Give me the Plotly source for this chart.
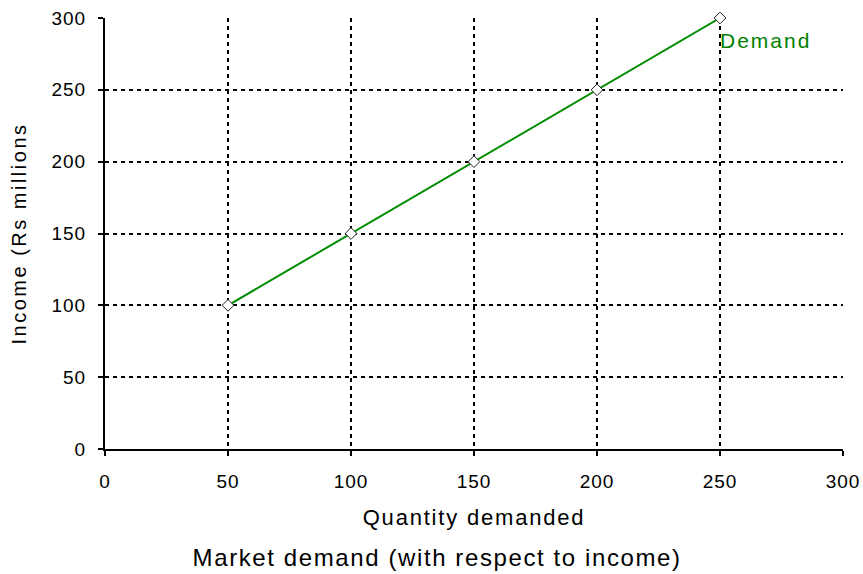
import plotly.graph_objects as go

quantity = [50, 100, 150, 200, 250]
income = [100, 150, 200, 250, 300]
series_name = "Demand"
x_ticks = [0, 50, 100, 150, 200, 250, 300]
y_ticks = [0, 50, 100, 150, 200, 250, 300]
caption = "Market demand (with respect to income)"

FONT = "Liberation Sans, Arial, sans-serif"

fig = go.Figure()
fig.add_trace(go.Scatter(
    x=quantity, y=income, mode="lines+markers", name=series_name,
    line=dict(color="#008c00", width=2),
    marker=dict(symbol="diamond", size=9, color="white", line=dict(color="#222222", width=1)),
    showlegend=False, cliponaxis=False,
))
fig.add_annotation(x=quantity[-1], y=income[-1], text=series_name, showarrow=False,
                   xanchor="left", yanchor="top", xshift=4, yshift=-9,
                   font=dict(color="#008000", size=21, family=FONT))

axis_common = dict(
    showgrid=True, gridcolor="black", gridwidth=2, griddash="4px,4px",
    showline=True, linecolor="black", linewidth=2,
    ticks="outside", ticklen=5, tickcolor="black", tickwidth=2,
    zeroline=False, automargin=False,
    tickfont=dict(size=19, color="black", family=FONT),
)
fig.update_xaxes(range=[0, 300], tickvals=x_ticks, ticklabelstandoff=9, **axis_common,
                 title=dict(text="Quantity demanded", font=dict(size=22, color="black", family=FONT),
                            standoff=19))
fig.update_yaxes(range=[0, 300], tickvals=y_ticks, ticklabelstandoff=8, **axis_common,
                 title=dict(text="Income (Rs millions", font=dict(size=20, color="black", family=FONT),
                            standoff=22))

# caption placed below the x-axis title
plot_left, plot_right, plot_top, plot_bottom = 105, 843, 18, 449
fig.add_annotation(x=(437 - plot_left) / (plot_right - plot_left),
                   y=(plot_bottom - 557) / (plot_bottom - plot_top),
                   xref="paper", yref="paper", showarrow=False,
                   text=caption, yanchor="middle",
                   font=dict(size=24, color="black", family=FONT))

fig.update_layout(
    width=863, height=574,
    margin=dict(l=105, r=20, t=18, b=125, autoexpand=False),
    plot_bgcolor="white", paper_bgcolor="white",
    font=dict(family=FONT, color="black"),
)

post = """
document.body.style.margin='0';
document.body.style.overflow='hidden';
var gd = document.getElementsByClassName('plotly-graph-div')[0];
function sp(){
  document.querySelectorAll('.xtick text, .ytick text').forEach(function(t){t.style.letterSpacing='1px';});
  document.querySelectorAll('.xtitle').forEach(function(t){t.style.letterSpacing='1.8px';});
  document.querySelectorAll('.ytitle').forEach(function(t){t.style.letterSpacing='2.5px';});
  document.querySelectorAll('.annotation-text').forEach(function(t){
    t.style.letterSpacing = (t.textContent.indexOf('Market')===0) ? '1.6px' : '2px';
  });
}
sp();
if (gd && gd.on) { gd.on('plotly_afterplot', sp); }
"""
fig.write_html("out.html", post_script=post, config={"displayModeBar": False})
